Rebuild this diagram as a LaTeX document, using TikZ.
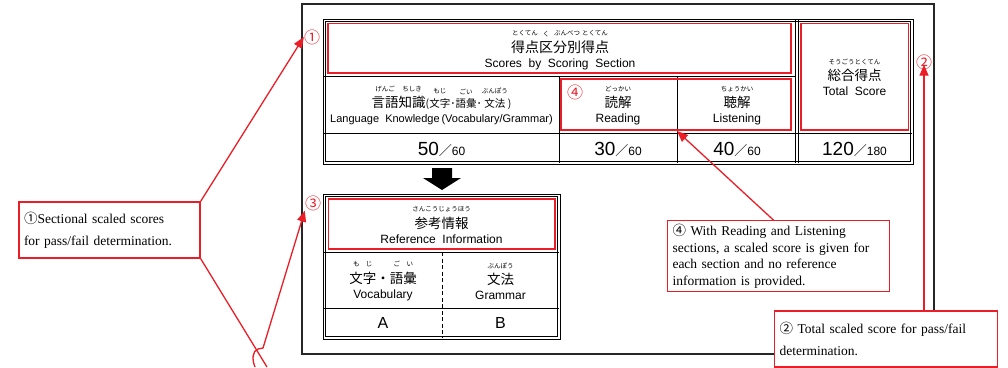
\documentclass[tikz,border=0pt]{standalone}
\usepackage{fontspec}
\setmainfont{Liberation Sans}
\newfontfamily\jpfont{Noto Sans CJK JP}
\newfontfamily\tmfont{Liberation Serif}
\usetikzlibrary{arrows.meta}

\definecolor{markred}{RGB}{235,30,40}

% furigana over a word
\newcommand{\rubyfont}{\jpfont\fontsize{6.5}{6.5}\selectfont}
\newcommand{\rb}[2]{\leavevmode\vbox{\offinterlineskip
  \halign{\hfil##\hfil\cr\rubyfont #2\cr\noalign{\vskip4.5pt}\jpfont #1\cr}}}
\newcommand{\outof}[2]{{\fontsize{19}{19}\selectfont #1}%
  {\jpfont\fontsize{13}{13}\selectfont ／}{\fontsize{12}{12}\selectfont #2}}

\begin{document}
\begin{tikzpicture}[x=1pt,y=-1pt,
    cell/.style={align=center,inner sep=0pt,font=\fontsize{12}{15}\selectfont},
    grid/.style={line width=0.9pt},
    twin/.style={line width=0.8pt},
    hilite/.style={draw=markred,line width=1.5pt},
    circnum/.style={inner sep=0pt,text=markred,font=\jpfont\fontsize{16}{16}\selectfont},
    note/.style={draw=markred,line width=1.3pt,fill=white,align=left,inner xsep=5pt,
      font=\tmfont\fontsize{13.5}{22}\selectfont},
    pointer/.style={markred,line width=1.3pt,-{Triangle[length=11pt,width=9pt]}},
    lead/.style={markred,line width=1.3pt}]
  \useasboundingbox (0,0) rectangle (1008,367);

  \draw[black!85,line width=1.2pt] (302,4) rectangle (934,354);

  % scores table
  \draw[twin] (323,19) rectangle (913,164);
  \draw[twin] (325.5,21.5) rectangle (910.5,161.5);
  \draw[grid] (324,76) -- (796,76);
  \draw[grid] (324,133) -- (912,133);
  \draw[grid] (559,76) -- (559,163);
  \draw[grid] (677,76) -- (677,163);
  \draw[twin] (795.5,20) -- (795.5,163);
  \draw[twin] (798.5,20) -- (798.5,163);
  \draw[hilite] (328,23.5) rectangle (791,73);
  \draw[hilite] (561,79) rectangle (791,130);
  \draw[hilite] (801,23.5) rectangle (908.5,130);

  \node (section) at (560,50)    [cell] {{\fontsize{14}{14}\selectfont\rb{得点}{とくてん}\rb{区}{く}\rb{分別}{ぶんべつ}\rb{得点}{とくてん}}\\Scores~~by~~Scoring~~Section};
  \node (lang)    at (441.5,105.5) [cell] {{\fontsize{13.5}{13.5}\selectfont\rb{言語}{げんご}\rb{知識}{ちしき}}{\jpfont\fontsize{10.5}{10.5}\selectfont (\rb{文字}{もじ}･\rb{語彙}{ごい}･\rb{文法}{ぶんぽう})}\\{\fontsize{11}{11}\selectfont Language~~Knowledge\,(Vocabulary/Grammar)}};
  \node (read)    at (618,105.5)   [cell] {{\fontsize{13.5}{13.5}\selectfont\rb{読解}{どっかい}}\\Reading};
  \node (listen)  at (737,105.5)   [cell] {{\fontsize{13.5}{13.5}\selectfont\rb{聴解}{ちょうかい}}\\Listening};
  \node (total)   at (854.5,77.5)  [cell] {{\fontsize{13.5}{13.5}\selectfont\rb{総合得点}{そうごうとくてん}}\\Total~~Score};

  \node (lang pts)   at (441.5,149) [cell] {\outof{50}{60}};
  \node (read pts)   at (618,149)   [cell] {\outof{30}{60}};
  \node (listen pts) at (737,149)   [cell] {\outof{40}{60}};
  \node (total pts)  at (854.5,149) [cell] {\outof{120}{180}};

  \fill (432,168) -- (452,168) -- (452,178) -- (461,178) -- (442,190)
    -- (423,178) -- (432,178) -- cycle;

  % reference table
  \draw[twin] (323,194) rectangle (560,339);
  \draw[twin] (325.5,196.5) rectangle (557.5,336.5);
  \draw[grid] (324,252) -- (559,252);
  \draw[grid] (324,308) -- (559,308);
  \draw[grid,dash pattern=on 4pt off 2.5pt] (442,252) -- (442,338);
  \draw[hilite] (328.5,199) rectangle (555,249);

  \node (refinfo) at (441.5,225) [cell] {{\fontsize{13.5}{13.5}\selectfont\rb{参考情報}{さんこうじょうほう}}\\Reference~~Information};
  \node (vocab)   at (383,281)   [cell] {{\fontsize{13.5}{13.5}\selectfont\rb{文字}{も\quad じ}{\jpfont ・}\rb{語彙}{ご\quad い}}\\Vocabulary};
  \node (grammar) at (500.5,281) [cell] {{\fontsize{13.5}{13.5}\selectfont\rb{文法}{ぶんぽう}}\\Grammar};
  \node (grade a) at (383,323)   [cell,font=\fontsize{16}{16}\selectfont] {A};
  \node (grade b) at (500.5,323) [cell,font=\fontsize{16}{16}\selectfont] {B};

  % red marks
  \node (mark1) at (312,37)  [circnum] {①};
  \node (mark2) at (924,62)  [circnum] {②};
  \node (mark3) at (313,203) [circnum] {③};
  \node (mark4) at (575,92)  [circnum] {④};

  % notes
  \node (note1) at (109.5,230) [note,text width=171pt,minimum height=56pt]
    {{\jpfont ①}Sectional scaled scores\\ for pass/fail determination.};
  \node (note4) at (778.5,256) [note,text width=212pt,minimum height=70pt,
    font=\tmfont\fontsize{13.5}{16.5}\selectfont]
    {{\jpfont ④} With Reading and Listening\\sections, a scaled score is given for\\each section and no reference\\information is provided.};
  \node (note2) at (886,339) [note,text width=213pt,minimum height=56pt]
    {{\jpfont ②} Total scaled score for pass/fail\\determination.};

  \coordinate (off1)  at (267,367);
  \coordinate (off3)  at (255,367);
  \coordinate (split) at (677,131);

  \draw[pointer] (note1.north east) -- (mark1.west);
  \draw[lead] (note1.south east) -- (off1);
  \draw[pointer] (off3) .. controls (252,360) and (252,351) .. (258,349)
    -- (263,348) -- (mark3.south west);
  \draw[pointer] ([xshift=-5pt]note4.north) -- (split);
  \draw[pointer] (note2.north -| mark2) -- ([yshift=5pt]mark2.south);
\end{tikzpicture}
\end{document}
